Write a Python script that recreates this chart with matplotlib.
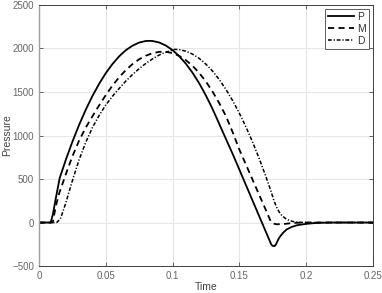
import matplotlib
matplotlib.use("Agg")
import matplotlib.pyplot as plt

plt.rcParams['font.family'] = ['Liberation Sans', 'DejaVu Sans']

# 压力曲线数据
t_P = [0, 0.0088, 0.0105, 0.0125, 0.0155, 0.020, 0.025, 0.030, 0.035, 0.040,
       0.045, 0.050, 0.055, 0.060, 0.065, 0.070, 0.075, 0.080, 0.0826,
       0.085, 0.090, 0.095, 0.100, 0.105, 0.110, 0.115, 0.120, 0.125,
       0.130, 0.135, 0.140, 0.145, 0.150, 0.155, 0.160, 0.165, 0.170,
       0.1725, 0.174, 0.175, 0.1765, 0.1775, 0.179, 0.1804, 0.183, 0.1854,
       0.189, 0.193, 0.197, 0.2004, 0.205, 0.210, 0.220, 0.25]
p_P = [0, 0, 100, 270, 510, 716, 927, 1120, 1295, 1453,
       1593, 1716, 1821, 1909, 1980, 2032, 2068, 2086, 2088,
       2086, 2069, 2034, 1982, 1912, 1825, 1721, 1600, 1460,
       1305, 1133, 960, 790, 610, 430, 250, 70, -110,
       -200, -254, -268, -270, -250, -200, -163, -115, -80,
       -52, -32, -22, -15, -8, -3, 0, 0]

t_M = [0, 0.0103, 0.0125, 0.015, 0.020, 0.025, 0.030, 0.035, 0.040, 0.045,
       0.050, 0.055, 0.060, 0.065, 0.070, 0.075, 0.080, 0.085, 0.090,
       0.093, 0.095, 0.100, 0.105, 0.110, 0.115, 0.120, 0.125, 0.130,
       0.135, 0.140, 0.145, 0.150, 0.155, 0.160, 0.165, 0.170, 0.1735,
       0.1755, 0.178, 0.183, 0.188, 0.193, 0.200, 0.25]
p_M = [0, 0, 180, 330, 550, 760, 940, 1090, 1220, 1345,
       1464, 1573, 1669, 1751, 1820, 1876, 1917, 1946, 1961,
       1963, 1962, 1947, 1915, 1866, 1801, 1719, 1620, 1504,
       1372, 1223, 1040, 840, 665, 490, 315, 140, 15,
       -12, -20, -17, -9, -3, 0, 0]

t_D = [0, 0.0132, 0.016, 0.020, 0.025, 0.030, 0.035, 0.040, 0.045, 0.050,
       0.055, 0.060, 0.065, 0.070, 0.075, 0.080, 0.085, 0.090, 0.095,
       0.100, 0.1018, 0.105, 0.110, 0.115, 0.120, 0.125, 0.130, 0.135,
       0.140, 0.145, 0.150, 0.155, 0.160, 0.165, 0.170, 0.1735, 0.176,
       0.178, 0.180, 0.182, 0.185, 0.188, 0.192, 0.197, 0.200, 0.25]
p_D = [0, 0, 40, 220, 480, 720, 920, 1090, 1230, 1350,
       1450, 1540, 1625, 1700, 1768, 1828, 1880, 1925, 1958,
       1982, 1990, 1987, 1969, 1935, 1886, 1820, 1740, 1643,
       1530, 1402, 1258, 1098, 923, 732, 525, 371, 250,
       175, 118, 78, 42, 20, 6, 1, 0, 0]

fig = plt.figure(figsize=(3.82, 2.93), dpi=100)
ax = fig.add_axes([0.102, 0.092, 0.874, 0.891])

ax.plot(t_P, p_P, color='black', lw=1.3, ls='-', label='P')
ax.plot(t_M, p_M, color='black', lw=1.3, ls=(0, (3.4, 2.4)), label='M')
ax.plot(t_D, p_D, color='black', lw=1.1, ls=(0, (2.5, 1.2, 0.8, 1.2)), label='D')

ax.set_xlim(0, 0.25)
ax.set_ylim(-500, 2500)
ax.set_xticks([0, 0.05, 0.1, 0.15, 0.2, 0.25])
ax.set_xticklabels(['0', '0.05', '0.1', '0.15', '0.2', '0.25'])
ax.set_yticks([-500, 0, 500, 1000, 1500, 2000, 2500])

ax.grid(True, color='#e6e6e6', lw=0.8)
ax.set_axisbelow(True)
ax.tick_params(direction='in', length=3, width=0.6, colors='#4d4d4d',
               labelsize=7, labelcolor='#666666', top=True, right=True)
for side in ['top', 'right', 'bottom']:
    ax.spines[side].set_color('#404040')
    ax.spines[side].set_linewidth(0.7)
ax.spines['left'].set_color('#a0a0a0')
ax.spines['left'].set_linewidth(1.0)

ax.set_xlabel('Time', fontsize=7.5, color='#404040', labelpad=1)
ax.set_ylabel('Pressure', fontsize=7.5, color='#404040')
ax.yaxis.set_label_coords(-0.08, 0.5)

leg = ax.legend(loc='upper right', fontsize=7.5, frameon=True, fancybox=False,
                edgecolor='#333333', handlelength=2.5, handletextpad=0.3,
                borderpad=0.3, labelspacing=0.2, borderaxespad=0.35)
leg.get_frame().set_linewidth(0.7)
for txt in leg.get_texts():
    txt.set_color('#333333')

plt.savefig('out.png', dpi=100)
